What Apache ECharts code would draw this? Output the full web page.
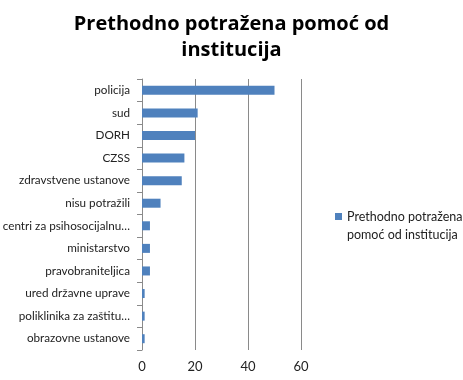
<!DOCTYPE html>
<html><head><meta charset="utf-8">
<script src="https://cdn.jsdelivr.net/npm/echarts@6/dist/echarts.min.js"></script>
<style>html,body{margin:0;padding:0;background:#fff}#c{width:463px;height:380px}</style>
</head><body><div id="c"></div>
<script>
const categories = ["policija","sud","DORH","CZSS","zdravstvene ustanove","nisu potražili","centri za psihosocijalnu…","ministarstvo","pravobraniteljica","ured državne uprave","poliklinika za zaštitu…","obrazovne ustanove"];
const values = [50,21,20,16,15,7,3,3,3,1,1,1];
const xTicks = [0,20,40,60];
const seriesName = "Prethodno potražena pomoć od institucija";
const font = "'Open Sans', 'Noto Sans', sans-serif";
const font2 = "Lato, 'Open Sans', sans-serif";
const chart = echarts.init(document.getElementById('c'));
chart.setOption({
  animation:false,
  title:{text:"Prethodno potražena pomoć od\ninstitucija",left:'center',top:6,
    textStyle:{fontFamily:font,fontSize:20,fontWeight:'bold',color:'#000',lineHeight:26}},
  legend:{data:[seriesName],left:330,top:203,orient:'vertical',
    icon:'path://M0,0h7v7h-7zM0,26L0,26Z',itemWidth:7,itemHeight:26,itemGap:4,
    formatter:()=>"Prethodno potražena\npomoć od institucija",
    textStyle:{fontFamily:font2,fontSize:12.5,color:'#222',lineHeight:18}},
  grid:{left:142,right:162,top:79,bottom:30,containLabel:false,outerBoundsMode:'none'},
  xAxis:{type:'value',min:xTicks[0],max:xTicks[xTicks.length-1],interval:20,
    axisLine:{show:false},axisTick:{show:false},
    axisLabel:{fontFamily:font2,fontSize:13,color:'#222',margin:10},
    splitLine:{lineStyle:{color:'#8a8a8a',width:1}}},
  yAxis:{type:'category',data:categories,inverse:true,
    axisLine:{show:true,lineStyle:{color:'#8a8a8a'}},
    axisTick:{show:true,length:5,lineStyle:{color:'#8a8a8a'}},
    axisLabel:{fontFamily:font2,fontSize:11.7,color:'#222',margin:12}},
  series:[{name:seriesName,type:'bar',data:values,barWidth:9,itemStyle:{color:'#4F81BD'}}]
});
</script></body></html>
